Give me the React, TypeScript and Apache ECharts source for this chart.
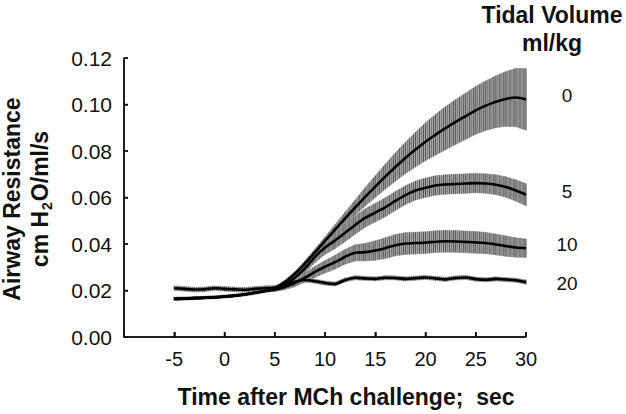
import React, { useEffect, useRef } from "react";
import * as echarts from "echarts";

const timeSec = [-5, -4, -3, -2, -1, 0, 1, 2, 3, 4, 5, 6, 7, 8, 9, 10, 11, 12, 13, 14, 15, 16, 17, 18, 19, 20, 21, 22, 23, 24, 25, 26, 27, 28, 29, 30];

const tv0 = [0.0165, 0.0166, 0.0167, 0.0169, 0.0171, 0.0174, 0.0178, 0.0183, 0.019, 0.0198, 0.0210, 0.0236, 0.0272, 0.0316, 0.0364, 0.0413, 0.0462, 0.0510, 0.0557, 0.0603, 0.0647, 0.0690, 0.0731, 0.0770, 0.0806, 0.0840, 0.0870, 0.0898, 0.0925, 0.0950, 0.0975, 0.0995, 0.1012, 0.1024, 0.1030, 0.1022];
const err0 = [0.0006, 0.0006, 0.0006, 0.0006, 0.0006, 0.0006, 0.0006, 0.0006, 0.0006, 0.0006, 0.0007, 0.0008, 0.0010, 0.0012, 0.0015, 0.0018, 0.0022, 0.0027, 0.0033, 0.0040, 0.0047, 0.0054, 0.0061, 0.0068, 0.0075, 0.0082, 0.0088, 0.0093, 0.0097, 0.0100, 0.0103, 0.0107, 0.0112, 0.0118, 0.0126, 0.0133];

const tv5 = [0.0164, 0.0165, 0.0167, 0.0169, 0.0171, 0.0174, 0.0178, 0.0183, 0.019, 0.0198, 0.0206, 0.0225, 0.0255, 0.0295, 0.0345, 0.0385, 0.0415, 0.0448, 0.0482, 0.0512, 0.0535, 0.0558, 0.0585, 0.0610, 0.0630, 0.0642, 0.0652, 0.0656, 0.0658, 0.0660, 0.0662, 0.0660, 0.0655, 0.0645, 0.0630, 0.0612];
const err5 = [0.0006, 0.0006, 0.0006, 0.0006, 0.0006, 0.0006, 0.0006, 0.0006, 0.0006, 0.0006, 0.0008, 0.0012, 0.0016, 0.0020, 0.0025, 0.0030, 0.0035, 0.0038, 0.0040, 0.0040, 0.0040, 0.0041, 0.0041, 0.0041, 0.0041, 0.0042, 0.0042, 0.0042, 0.0042, 0.0042, 0.0042, 0.0042, 0.0043, 0.0044, 0.0046, 0.0048];

const tv10 = [0.0164, 0.0165, 0.0167, 0.0169, 0.0171, 0.0174, 0.0178, 0.0183, 0.019, 0.0198, 0.0203, 0.0215, 0.0232, 0.0255, 0.0280, 0.0302, 0.0322, 0.0345, 0.0362, 0.0365, 0.0372, 0.0382, 0.0395, 0.0402, 0.0404, 0.0406, 0.0410, 0.0412, 0.0411, 0.0409, 0.0407, 0.0404, 0.0398, 0.0391, 0.0385, 0.0382];
const err10 = [0.0006, 0.0006, 0.0006, 0.0006, 0.0006, 0.0006, 0.0006, 0.0006, 0.0006, 0.0006, 0.0008, 0.0012, 0.0016, 0.0020, 0.0024, 0.0027, 0.0030, 0.0032, 0.0035, 0.0038, 0.0042, 0.0045, 0.0046, 0.0047, 0.0047, 0.0047, 0.0047, 0.0047, 0.0047, 0.0047, 0.0047, 0.0046, 0.0045, 0.0044, 0.0042, 0.0040];

const tv20 = [0.0210, 0.0207, 0.0204, 0.0205, 0.0210, 0.0207, 0.0205, 0.0203, 0.0207, 0.0210, 0.0212, 0.0225, 0.0238, 0.0245, 0.0240, 0.0232, 0.0228, 0.0245, 0.0255, 0.0252, 0.0250, 0.0255, 0.0254, 0.0250, 0.0253, 0.0256, 0.0252, 0.0248, 0.0254, 0.0256, 0.0249, 0.0246, 0.0250, 0.0247, 0.0244, 0.0236];
const err20 = [0.0010, 0.0010, 0.0010, 0.0010, 0.0010, 0.0010, 0.0010, 0.0010, 0.0010, 0.0010, 0.0010, 0.0009, 0.0009, 0.0009, 0.0009, 0.0009, 0.0009, 0.0009, 0.0009, 0.0009, 0.0009, 0.0009, 0.0009, 0.0009, 0.0009, 0.0009, 0.0009, 0.0009, 0.0009, 0.0009, 0.0009, 0.0009, 0.0009, 0.0009, 0.0009, 0.0010];

const groupLabels = ["0", "5", "10", "20"];
const xTicks = [-10, -5, 0, 5, 10, 15, 20, 25, 30];
const yTicks = [0, 0.02, 0.04, 0.06, 0.08, 0.1, 0.12];

const FONT = "'Liberation Sans', Arial, Helvetica, sans-serif";
const INK = "#111";
const HATCH_PER_STEP = 5;

export default function App() {
  const ref = useRef<HTMLDivElement>(null);
  useEffect(() => {
    if (!ref.current) return;
    const chart = echarts.init(ref.current, undefined, { renderer: "svg" });
    const groups = [
      { name: groupLabels[0], mean: tv0, err: err0 },
      { name: groupLabels[1], mean: tv5, err: err5 },
      { name: groupLabels[2], mean: tv10, err: err10 },
      { name: groupLabels[3], mean: tv20, err: err20 },
    ];
    const series: any[] = [];
    groups.forEach((g) => {
      const bandData = timeSec.map((t, i) => [t, g.mean[i] - g.err[i], g.mean[i] + g.err[i]]);
      series.push({
        type: "custom",
        name: "band" + g.name,
        data: bandData,
        silent: true,
        z: 1,
        renderItem: (params: any, api: any) => {
          const i = params.dataIndex;
          const d0 = bandData[i];
          const u0 = api.coord([d0[0], d0[2]]);
          const l0 = api.coord([d0[0], d0[1]]);
          if (i >= bandData.length - 1) {
            return {
              type: "line",
              shape: { x1: u0[0], y1: u0[1], x2: l0[0], y2: l0[1] },
              style: { stroke: "#4a4a4a", lineWidth: 0.9 },
            };
          }
          const d1 = bandData[i + 1];
          const u1 = api.coord([d1[0], d1[2]]);
          const l1 = api.coord([d1[0], d1[1]]);
          const children: any[] = [
            {
              type: "polygon",
              shape: { points: [u0, u1, l1, l0] },
              style: { fill: "#a9a9a9", stroke: "#a9a9a9", lineWidth: 0.6 },
            },
          ];
          for (let k = 0; k < HATCH_PER_STEP; k++) {
            const f = k / HATCH_PER_STEP;
            const x = u0[0] + f * (u1[0] - u0[0]);
            const yt = u0[1] + f * (u1[1] - u0[1]);
            const yb = l0[1] + f * (l1[1] - l0[1]);
            children.push({
              type: "line",
              shape: { x1: x, y1: yt, x2: x, y2: yb },
              style: { stroke: k % 2 === 0 ? "#4a4a4a" : "#707070", lineWidth: 0.9 },
            });
          }
          return { type: "group", children };
        },
      });
    });
    groups.forEach((g) => {
      series.push({
        type: "line",
        name: "mean" + g.name,
        data: timeSec.map((t, i) => [t, g.mean[i]]),
        symbol: "none",
        smooth: 0.3,
        lineStyle: { color: "#000", width: 2.6 },
        silent: true,
        z: 3,
      });
    });

    const labelY = [95, 191, 244, 283];
    const titleFont = { fontSize: 23, fontWeight: "bold", fontFamily: FONT, fill: INK };
    const textGraphics: any[] = [
      {
        type: "text",
        x: 26,
        y: 199,
        rotation: Math.PI / 2,
        style: {
          text: "{a|Airway Resistance}\n{a|cm H}{s|2}{a|O/ml/s}",
          align: "center",
          verticalAlign: "middle",
          fill: INK,
          rich: {
            a: { fontSize: 23, fontWeight: "bold", fontFamily: FONT, fill: INK, lineHeight: 28 },
            s: { fontSize: 14, fontWeight: "bold", fontFamily: FONT, fill: INK, lineHeight: 28, verticalAlign: "bottom", padding: [0, 1, 0, 1] },
          },
        },
      },
      { type: "text", x: 346, y: 397, style: { text: "Time after MCh challenge;  sec", align: "center", verticalAlign: "middle", ...titleFont } },
      { type: "text", x: 552, y: 15, style: { text: "Tidal Volume", align: "center", verticalAlign: "middle", ...titleFont } },
      { type: "text", x: 552, y: 43, style: { text: "ml/kg", align: "center", verticalAlign: "middle", ...titleFont } },
      ...groupLabels.map((l, i) => ({
        type: "text",
        x: 567,
        y: labelY[i],
        style: { text: l, align: "center", verticalAlign: "middle", fontSize: 19, fontFamily: FONT, fill: INK },
      })),
    ];

    const xMin = xTicks[0];
    const xMax = xTicks[xTicks.length - 1];
    const yMin = yTicks[0];
    const yMax = yTicks[yTicks.length - 1];

    chart.setOption({
      animation: false,
      backgroundColor: "#fff",
      grid: { left: 124, right: 100, top: 58, bottom: 77, containLabel: false },
      xAxis: {
        type: "value",
        position: "bottom",
        min: xMin,
        max: xMax,
        interval: 5,
        axisLine: { show: true, onZero: false, lineStyle: { color: INK, width: 1.5 } },
        axisTick: { show: true, inside: true, length: 5, lineStyle: { color: INK, width: 1.5 } },
        splitLine: { show: false },
        axisLabel: {
          fontSize: 20,
          fontFamily: FONT,
          color: INK,
          margin: 12,
          formatter: (v: number) => (v === xMin ? "" : String(v)),
        },
      },
      yAxis: {
        type: "value",
        position: "left",
        min: yMin,
        max: yMax,
        interval: 0.02,
        axisLine: { show: true, onZero: false, lineStyle: { color: INK, width: 1.5 } },
        axisTick: { show: true, inside: true, length: 4, lineStyle: { color: INK, width: 1.5 } },
        splitLine: { show: false },
        axisLabel: {
          fontSize: 21,
          fontFamily: FONT,
          color: INK,
          margin: 12,
          formatter: (v: number) => v.toFixed(2),
        },
      },
      series,
      graphic: textGraphics,
    });

    const finder = { xAxisIndex: 0, yAxisIndex: 0 };
    const o = chart.convertToPixel(finder as any, [xMin, yMin]) as number[];
    const xe = chart.convertToPixel(finder as any, [xMax, yMin]) as number[];
    const ye = chart.convertToPixel(finder as any, [xMin, yMax]) as number[];
    const axisStyle = { stroke: INK, lineWidth: 1.5 };
    const axisGraphics: any[] = [
      { type: "line", z: 5, shape: { x1: o[0], y1: o[1], x2: xe[0], y2: xe[1] }, style: axisStyle, silent: true },
      { type: "line", z: 5, shape: { x1: o[0], y1: o[1], x2: ye[0], y2: ye[1] }, style: axisStyle, silent: true },
      ...xTicks.slice(1).map((t) => {
        const p = chart.convertToPixel(finder as any, [t, yMin]) as number[];
        return { type: "line", z: 5, shape: { x1: p[0], y1: p[1], x2: p[0], y2: p[1] - 5 }, style: axisStyle, silent: true };
      }),
      ...yTicks.map((v) => {
        const p = chart.convertToPixel(finder as any, [xMin, v]) as number[];
        return { type: "line", z: 5, shape: { x1: p[0], y1: p[1], x2: p[0] + 4, y2: p[1] }, style: axisStyle, silent: true };
      }),
    ];
    chart.setOption({ graphic: textGraphics.concat(axisGraphics) });

    return () => chart.dispose();
  }, []);
  return <div ref={ref} style={{ width: 626, height: 414, position: "absolute", left: 0, top: 0 }} />;
}
